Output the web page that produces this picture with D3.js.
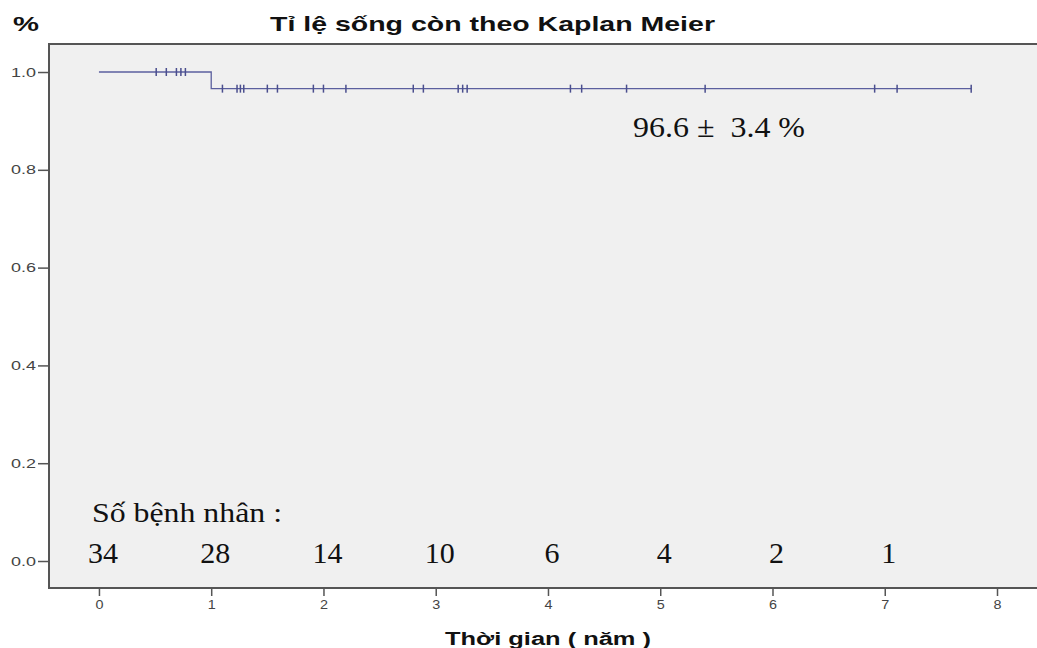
<!DOCTYPE html>
<html>
<head>
<meta charset="utf-8">
<script src="https://cdn.jsdelivr.net/npm/d3@7"></script>
<style>
  body { margin: 0; background: #fff; }
  svg { display: block; }
</style>
</head>
<body>
<div id="chart"></div>
<script>
// survival curve (time in years, survival proportion)
const kmTimes = [0, 1.0, 7.77];
const kmSurv = [1.0, 0.966, 0.966];
// censored observations
const censorTimes = [0.51, 0.60, 0.69, 0.73, 0.77,
    1.10, 1.23, 1.26, 1.29, 1.50, 1.59, 1.91, 2.00, 2.20,
    2.80, 2.89, 3.20, 3.24, 3.28, 4.20, 4.30, 4.70, 5.40,
    6.91, 7.11, 7.77];
const censorSurv = censorTimes.map(t => t < 1 ? 1.0 : 0.966);
// number at risk
const riskYears = [0, 1, 2, 3, 4, 5, 6, 7];
const riskCounts = [34, 28, 14, 10, 6, 4, 2, 1];
const xTicks = [0, 1, 2, 3, 4, 5, 6, 7, 8];
const yTicks = [0.0, 0.2, 0.4, 0.6, 0.8, 1.0];

const W = 1037, H = 648;
const plot = {left: 49, top: 44, right: 1040, bottom: 588};
const sans = 'Liberation Sans, Arial, sans-serif';
const serif = 'Liberation Serif, Times New Roman, serif';

const svg = d3.select('#chart').append('svg')
    .attr('width', W)
    .attr('height', H);

const x = d3.scaleLinear().domain([-0.445, 8.383]).range([plot.left, plot.right]);
const y = d3.scaleLinear().domain([-0.0552, 1.0573]).range([plot.bottom, plot.top]);

svg.append('rect')
    .attr('x', plot.left).attr('y', plot.top)
    .attr('width', plot.right - plot.left).attr('height', plot.bottom - plot.top)
    .attr('fill', '#f0f0f0')
    .attr('stroke', '#555')
    .attr('stroke-width', 2);

// axes
const yAxis = svg.append('g')
    .attr('transform', 'translate(' + plot.left + ',0)')
    .call(d3.axisLeft(y).tickValues(yTicks).tickFormat(d3.format('.1f')).tickSize(11).tickPadding(2));
const xAxis = svg.append('g')
    .attr('transform', 'translate(0,' + plot.bottom + ')')
    .call(d3.axisBottom(x).tickValues(xTicks).tickFormat(d3.format('d')).tickSize(8).tickPadding(4));

[yAxis, xAxis].forEach(a => {
    a.select('.domain').remove();
    a.selectAll('line').attr('stroke', '#555').attr('stroke-width', 1.5);
    a.selectAll('text')
        .attr('fill', '#444')
        .attr('font-family', sans)
        .attr('font-size', 12.5);
});
yAxis.selectAll('text').attr('textLength', 25).attr('lengthAdjust', 'spacingAndGlyphs');
xAxis.selectAll('text').attr('textLength', 8).attr('lengthAdjust', 'spacingAndGlyphs');

// survival line
const line = d3.line()
    .x((d, i) => x(kmTimes[i]))
    .y((d, i) => y(kmSurv[i]))
    .curve(d3.curveStepAfter);

svg.append('path')
    .datum(kmTimes)
    .attr('d', line)
    .attr('fill', 'none')
    .attr('stroke', '#5b5f9e')
    .attr('stroke-width', 1.3);

svg.selectAll('.censor')
    .data(censorTimes)
    .enter().append('line')
    .classed('censor', true)
    .attr('x1', d => x(d)).attr('x2', d => x(d))
    .attr('y1', (d, i) => y(censorSurv[i]) - 4)
    .attr('y2', (d, i) => y(censorSurv[i]) + 4)
    .attr('stroke', '#4a4e8e')
    .attr('stroke-width', 1.5);

// annotations
svg.append('text')
    .attr('x', 633).attr('y', 137)
    .attr('font-family', serif)
    .attr('font-size', 30)
    .attr('fill', '#111')
    .attr('textLength', 172)
    .attr('lengthAdjust', 'spacingAndGlyphs')
    .style('white-space', 'pre')
    .text('96.6 ±  3.4 %');

svg.append('text')
    .attr('x', 92).attr('y', 522)
    .attr('font-family', serif)
    .attr('font-size', 28)
    .attr('fill', '#111')
    .attr('textLength', 190)
    .attr('lengthAdjust', 'spacingAndGlyphs')
    .text('Số bệnh nhân :');

svg.selectAll('.risk')
    .data(riskCounts)
    .enter().append('text')
    .classed('risk', true)
    .attr('x', (d, i) => x(riskYears[i]) + 4)
    .attr('y', 563)
    .attr('text-anchor', 'middle')
    .attr('font-family', serif)
    .attr('font-size', 30)
    .attr('fill', '#111')
    .text(d => d);

// titles
svg.append('text')
    .attr('x', 270).attr('y', 31)
    .attr('font-family', sans)
    .attr('font-weight', 'bold')
    .attr('font-size', 21)
    .attr('fill', '#111')
    .attr('textLength', 445)
    .attr('lengthAdjust', 'spacingAndGlyphs')
    .text('Tỉ lệ sống còn theo Kaplan Meier');

svg.append('text')
    .attr('x', 13).attr('y', 31)
    .attr('font-family', sans)
    .attr('font-weight', 'bold')
    .attr('font-size', 21)
    .attr('fill', '#111')
    .attr('textLength', 26)
    .attr('lengthAdjust', 'spacingAndGlyphs')
    .text('%');

svg.append('text')
    .attr('x', 445).attr('y', 645)
    .attr('font-family', sans)
    .attr('font-weight', 'bold')
    .attr('font-size', 18)
    .attr('fill', '#111')
    .attr('textLength', 206)
    .attr('lengthAdjust', 'spacingAndGlyphs')
    .text('Thời gian ( năm )');
</script>
</body>
</html>
